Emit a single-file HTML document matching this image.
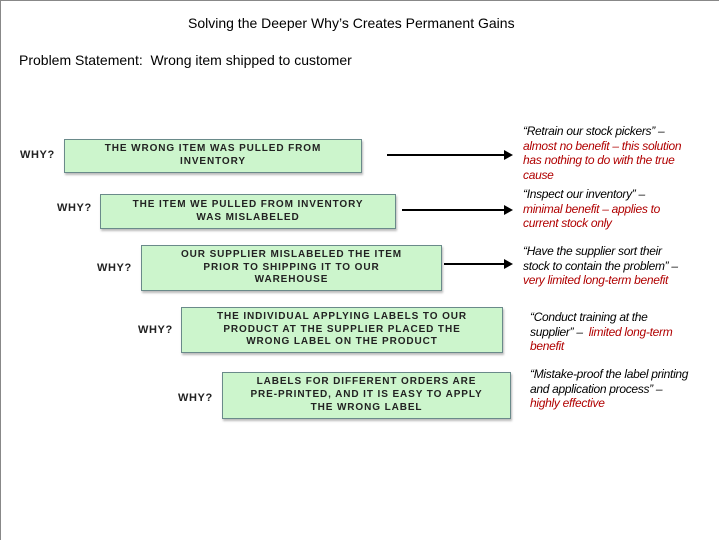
<!DOCTYPE html>
<html><head><style>
body{margin:0;width:720px;height:540px;position:relative;background:#fff;font-family:"Liberation Sans",sans-serif;overflow:hidden}
.frame{position:absolute;left:0;top:0;width:719px;height:540px;border-top:1px solid #888;border-left:1px solid #888;box-sizing:border-box}
.t{position:absolute;font-size:14px;color:#000;white-space:nowrap}
.box{position:absolute;background:#ccf5cc;border:1px solid #6a8a8a;box-shadow:1px 2px 2px #bbb;display:flex;align-items:center;justify-content:center;text-align:center;font-weight:bold;font-size:10px;text-transform:uppercase;letter-spacing:0.9px;line-height:12.8px;color:#222;box-sizing:border-box;white-space:nowrap}
.why{position:absolute;font-weight:bold;font-size:11px;color:#222;letter-spacing:0.6px}
.r{position:absolute;font-size:12px;font-style:italic;line-height:14.5px;color:#b00000;white-space:nowrap;letter-spacing:-0.3px}
.r b{font-weight:normal;color:#000}
</style></head><body>
<div class="frame"></div>
<div class="t" style="left:188px;top:15px">Solving the Deeper Why’s Creates Permanent Gains</div>
<div class="t" style="left:19px;top:52px">Problem Statement:&nbsp; Wrong item shipped to customer</div>

<div class="why" style="left:20px;top:149px">WHY?</div>
<div class="box" style="left:64px;top:139px;width:298px;height:34px">The wrong item was pulled from<br>inventory</div>
<div class="why" style="left:57px;top:202px">WHY?</div>
<div class="box" style="left:100px;top:194px;width:296px;height:35px">The item we pulled from inventory<br>was mislabeled</div>
<div class="why" style="left:97px;top:262px">WHY?</div>
<div class="box" style="left:141px;top:245px;width:301px;height:46px">Our supplier mislabeled the item<br>prior to shipping it to our<br>warehouse</div>
<div class="why" style="left:138px;top:324px">WHY?</div>
<div class="box" style="left:181px;top:307px;width:322px;height:46px">The individual applying labels to our<br>product at the supplier placed the<br>wrong label on the product</div>
<div class="why" style="left:178px;top:392px">WHY?</div>
<div class="box" style="left:222px;top:372px;width:289px;height:47px">Labels for different orders are<br>pre-printed, and it is easy to apply<br>the wrong label</div>

<svg style="position:absolute;left:0;top:0" width="720" height="540">
<g stroke="#000" stroke-width="2"><line x1="387" y1="155" x2="505" y2="155"/><line x1="402" y1="210" x2="505" y2="210"/><line x1="444" y1="264" x2="505" y2="264"/></g>
<g fill="#000"><polygon points="504,150 513,155 504,160"/><polygon points="504,205 513,210 504,215"/><polygon points="504,259 513,264 504,269"/></g>
</svg>

<div class="r" style="left:523px;top:124px"><b>“Retrain our stock pickers” –</b><br>almost no benefit – this solution<br>has nothing to do with the true<br>cause</div>
<div class="r" style="left:523px;top:187px"><b>“Inspect our inventory” –</b><br>minimal benefit – applies to<br>current stock only</div>
<div class="r" style="left:523px;top:244px"><b>“Have the supplier sort their</b><br><b>stock to contain the problem” –</b><br>very limited long-term benefit</div>
<div class="r" style="left:530px;top:310px"><b>“Conduct training at the</b><br><b>supplier” –</b>&nbsp; limited long-term<br>benefit</div>
<div class="r" style="left:530px;top:367px"><b>“Mistake-proof the label printing</b><br><b>and application process” –</b><br>highly effective</div>
</body></html>
